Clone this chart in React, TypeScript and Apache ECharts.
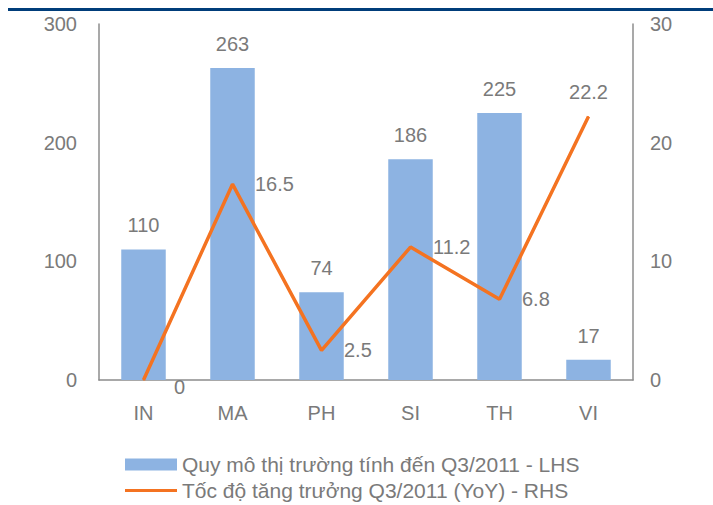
import React, { useEffect, useRef } from "react";
import * as echarts from "echarts";

const categories = ["IN", "MA", "PH", "SI", "TH", "VI"];
const marketSize = [110, 263, 74, 186, 225, 17];
const growth = [0, 16.5, 2.5, 11.2, 6.8, 22.2];
const leftTicks = [0, 100, 200, 300];
const rightTicks = [0, 10, 20, 30];
const barName = "Quy mô thị trường tính đến Q3/2011 - LHS";
const lineName = "Tốc độ tăng trưởng Q3/2011 (YoY) - RHS";

const FONT = "'Liberation Sans', Arial, sans-serif";
const GRAY = "#7a7a7a";
const FS = 20;
const LFS = 21;

export default function App() {
  const ref = useRef<HTMLDivElement>(null);
  useEffect(() => {
    const chart = echarts.init(ref.current!, undefined, { renderer: "svg" });
    chart.setOption({
      animation: false,
      textStyle: { fontFamily: FONT },
      grid: { left: 99, right: 80, top: 24, bottom: 125 },
      legend: [
        {
          left: 120,
          top: 449,
          itemWidth: 52,
          itemHeight: 12,
          itemGap: 8,
          textStyle: { fontFamily: FONT, fontSize: LFS, color: GRAY },
          data: [{ name: barName, icon: "rect" }],
        },
        {
          left: 120,
          top: 475,
          itemWidth: 52,
          itemHeight: 3,
          textStyle: { fontFamily: FONT, fontSize: LFS, color: GRAY },
          data: [{ name: lineName, icon: "rect" }],
        },
      ],
      graphic: [
        {
          type: "line",
          shape: { x1: 8, y1: 9.5, x2: 713, y2: 9.5 },
          style: { stroke: "#003d7a", lineWidth: 3 },
        },
      ],
      xAxis: {
        type: "category",
        data: categories,
        axisLine: { lineStyle: { color: "#8c8c8c", width: 1.5 } },
        axisTick: { show: false },
        axisLabel: { color: GRAY, fontSize: FS, margin: 23, fontFamily: FONT },
      },
      yAxis: [
        {
          type: "value",
          min: leftTicks[0],
          max: leftTicks[leftTicks.length - 1],
          interval: 100,
          axisLine: { show: true, lineStyle: { color: "#8c8c8c", width: 1.5 } },
          axisTick: { show: false },
          splitLine: { show: false },
          axisLabel: { color: GRAY, fontSize: FS, margin: 22, fontFamily: FONT },
        },
        {
          type: "value",
          min: rightTicks[0],
          max: rightTicks[rightTicks.length - 1],
          interval: 10,
          position: "right",
          axisLine: { show: true, lineStyle: { color: "#8c8c8c", width: 1.5 } },
          axisTick: { show: false },
          splitLine: { show: false },
          axisLabel: { color: GRAY, fontSize: FS, margin: 17, fontFamily: FONT },
        },
      ],
      series: [
        {
          name: barName,
          type: "bar",
          data: marketSize,
          barWidth: "50%",
          itemStyle: { color: "#8db3e2" },
          label: {
            show: true,
            position: "top",
            distance: 14,
            color: GRAY,
            fontSize: FS,
            fontFamily: FONT,
          },
        },
        {
          name: lineName,
          type: "line",
          yAxisIndex: 1,
          data: growth.map((v, i) => ({
            value: v,
            label:
              i === growth.length - 1
                ? { position: "top", distance: 14 }
                : i === 0
                ? { position: "right", distance: 30, offset: [0, 7] }
                : { position: "right", distance: 22 },
          })),
          symbol: "circle",
          symbolSize: 1,
          showSymbol: true,
          lineStyle: { color: "#f47321", width: 3.5 },
          itemStyle: { color: "#f47321" },
          label: {
            show: true,
            color: GRAY,
            fontSize: FS,
            fontFamily: FONT,
          },
        },
      ],
    });
    return () => chart.dispose();
  }, []);
  return (
    <div
      ref={ref}
      style={{ position: "fixed", left: 0, top: 0, width: 713, height: 505, background: "#fff" }}
    />
  );
}
